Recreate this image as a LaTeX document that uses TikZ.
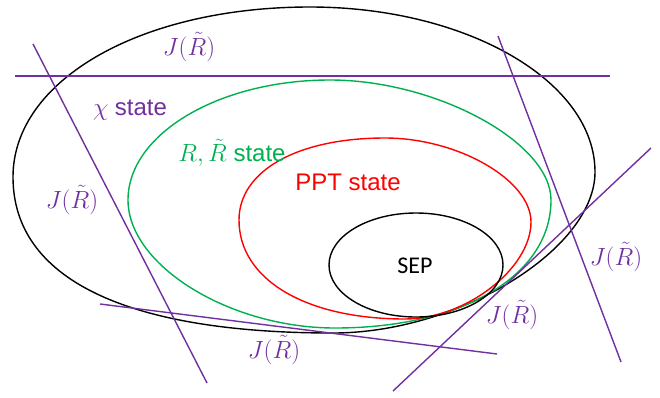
\documentclass[tikz,border=0pt]{standalone}
\usepackage{fontspec}
\setmainfont{Liberation Sans}
\newfontfamily\calib{Carlito}
\definecolor{ppurple}{HTML}{7030A0}
\definecolor{pgreen}{HTML}{00B050}
\definecolor{pred}{HTML}{FF0000}
\tikzset{
  setline/.style={line width=1.4pt},
  cutline/.style={line width=1.4pt, draw=ppurple},
  jlabel/.style={text=ppurple, inner sep=0pt, font=\fontsize{25}{28}\selectfont},
  slabel/.style={inner sep=0pt, font=\fontsize{24}{28}\selectfont}
}
\begin{document}
\begin{tikzpicture}[x=1pt,y=-1pt]
\useasboundingbox (0,0) rectangle (660,397);
% big chi set
\draw[setline,black] (310,7) .. controls (466.8,7) and (595,81.3) .. (595,172)
  .. controls (595,249.3) and (458.8,333) .. (333,333)
  .. controls (125,333) and (13,278.4) .. (13,177)
  .. controls (13,80.1) and (140.7,7) .. (310,7) -- cycle;
% R, R tilde set
\draw[setline,pgreen] (330,80) .. controls (436.1,80) and (551,142.4) .. (551,200)
  .. controls (551,275.5) and (462.4,328) .. (335,328)
  .. controls (229.4,328) and (128,265.3) .. (128,200)
  .. controls (128,134) and (218.9,80) .. (330,80) -- cycle;
% PPT set
\draw[setline,pred] (385,138) .. controls (458,138) and (531,180) .. (531,222)
  .. controls (531,268.6) and (465.5,319) .. (405,319)
  .. controls (305.4,319) and (239,279.4) .. (239,220)
  .. controls (239,170.8) and (297.4,138) .. (385,138) -- cycle;
% SEP
\draw[setline,black] (416,265) ellipse [x radius=87, y radius=52];
\node[slabel, font=\calib\fontsize{24}{28}\selectfont] (sep) at (415,266) {SEP};

% witness lines
\coordinate (h1) at (15,76);  \coordinate (h2) at (610,76);
\coordinate (l1) at (33,44);  \coordinate (l2) at (207,383);
\coordinate (b1) at (100,304); \coordinate (b2) at (497,354);
\coordinate (r1) at (498,36); \coordinate (r2) at (621,362);
\coordinate (d1) at (651,148); \coordinate (d2) at (393,391);
\draw[cutline] (h1) -- (h2);
\draw[cutline] (l1) -- (l2);
\draw[cutline] (b1) -- (b2);
\draw[cutline] (r1) -- (r2);
\draw[cutline] (d1) -- (d2);

% labels
\node[jlabel] (jtop) at (189,47) {$J(\tilde{R})$};
\node[jlabel] (jleft) at (72,200) {$J(\tilde{R})$};
\node[jlabel] (jbot) at (274,350) {$J(\tilde{R})$};
\node[jlabel] (jright) at (616,257) {$J(\tilde{R})$};
\node[jlabel] (jmid) at (512,315) {$J(\tilde{R})$};
\node[slabel, text=ppurple] (chi) at (130,110) {$\chi$ state};
\node[slabel, text=pgreen] (rr) at (232,153) {$R,\tilde{R}$ state};
\node[slabel, text=pred] (ppt) at (348,182) {PPT state};
\end{tikzpicture}
\end{document}
